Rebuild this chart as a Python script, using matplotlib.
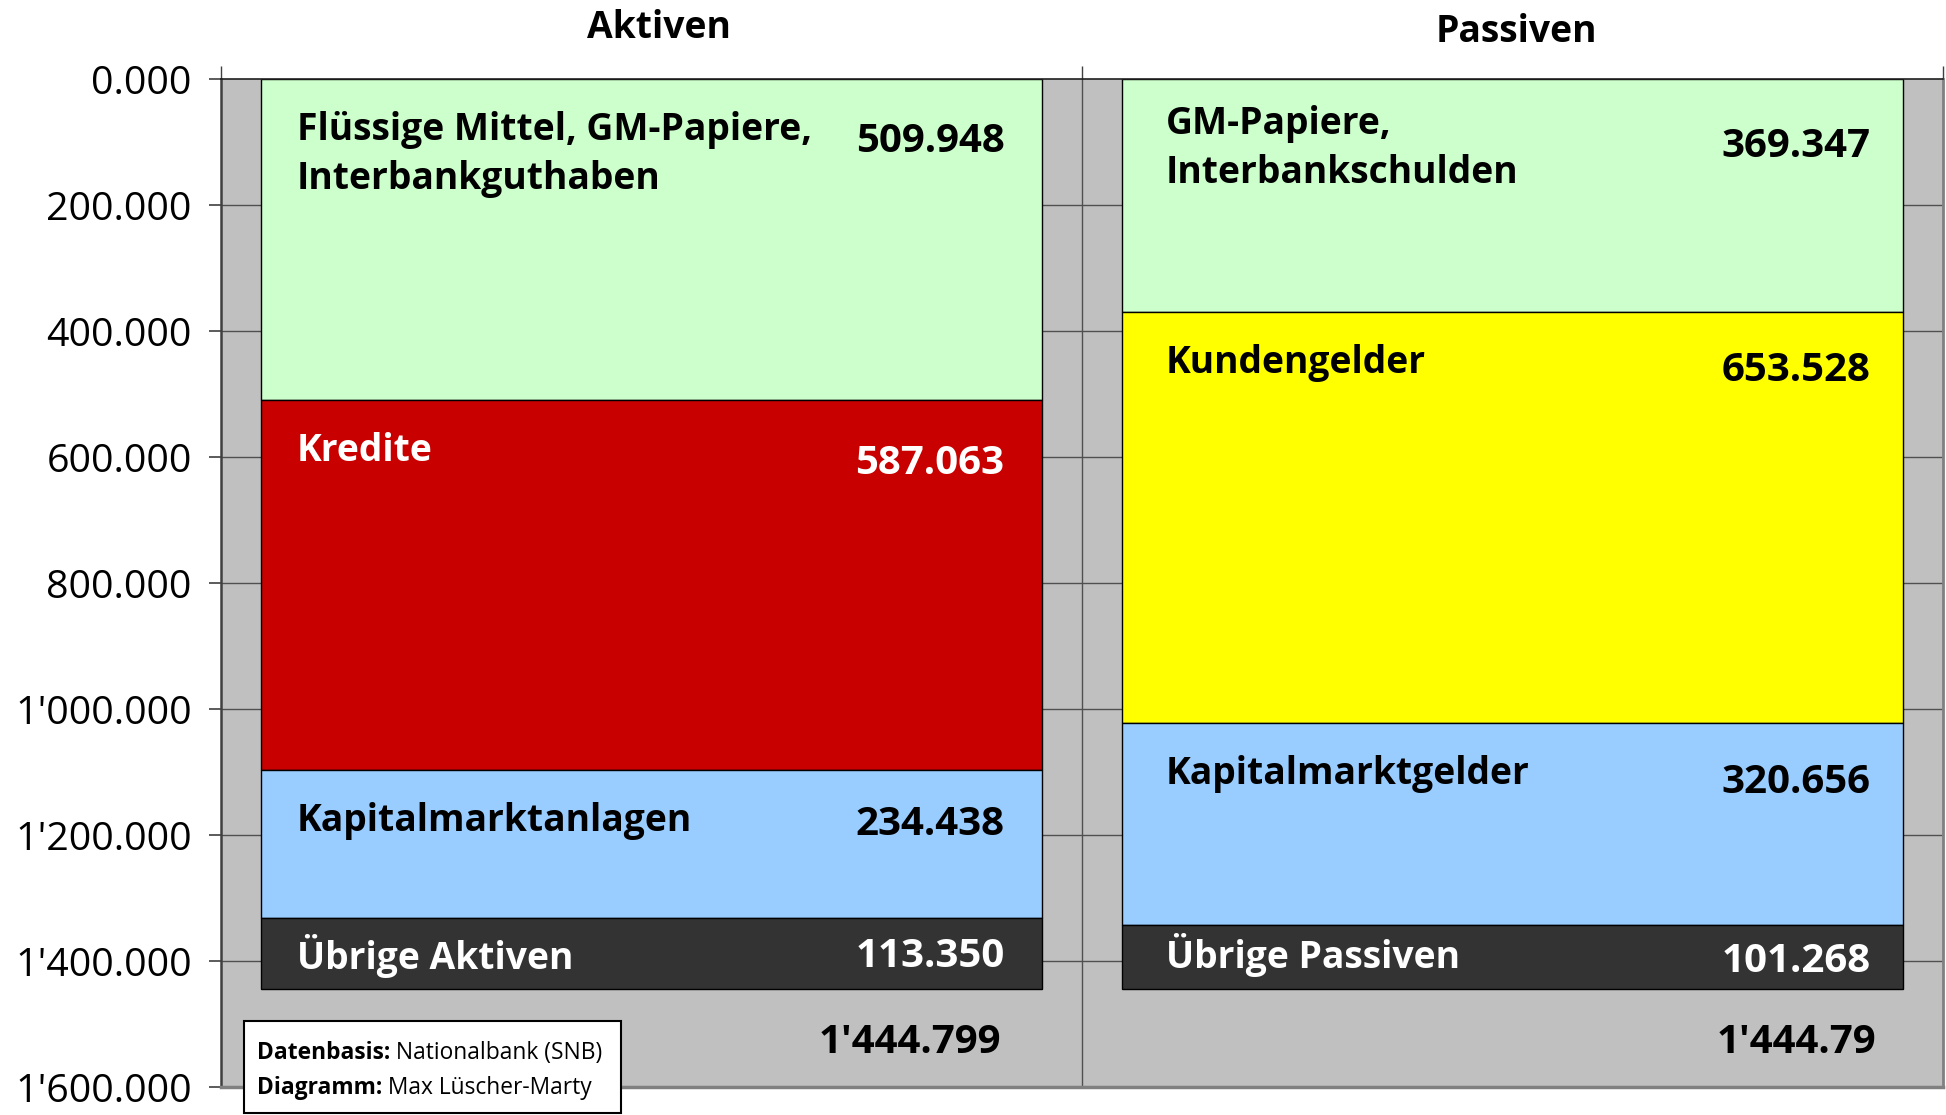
import matplotlib
matplotlib.use("Agg")
import matplotlib.pyplot as plt
from matplotlib.patches import Rectangle
from matplotlib.ticker import FuncFormatter, FixedLocator
import numpy as np

plt.rcParams['font.family'] = ['Open Sans', 'DejaVu Sans']

# ---------------- data ----------------
categories = ["Aktiven", "Passiven"]
aktiven_labels = ["Flüssige Mittel, GM-Papiere,\nInterbankguthaben", "Kredite",
                  "Kapitalmarktanlagen", "Übrige Aktiven"]
aktiven_values = [509.948, 587.063, 234.438, 113.350]
passiven_labels = ["GM-Papiere,\nInterbankschulden", "Kundengelder",
                   "Kapitalmarktgelder", "Übrige Passiven"]
passiven_values = [369.347, 653.528, 320.656, 101.268]
total_labels = ["1'444.799", "1'444.79"]
y_ticks = [0, 200, 400, 600, 800, 1000, 1200, 1400, 1600]

aktiven_colors = ["#CCFFCC", "#C80000", "#99CCFF", "#333333"]
passiven_colors = ["#CCFFCC", "#FFFF00", "#99CCFF", "#333333"]
aktiven_text = ["black", "white", "black", "white"]
passiven_text = ["black", "black", "black", "white"]

# ---------------- figure ----------------
W, H = 1946, 1115
fig = plt.figure(figsize=(W / 100, H / 100), dpi=100)
ax = fig.add_axes([221 / W, 1 - 1087 / H, (1943 - 221) / W, (1087 - 79) / H])
ax.set_facecolor("#C0C0C0")
ax.set_xlim(-0.5, 1.5)
ax.set_ylim(1600, 0)

# grid
for t in y_ticks[1:-1]:
    ax.axhline(t, color="#505050", lw=1.0, zorder=0.5)
ax.axvline(0.5, color="#505050", lw=1.0, zorder=0.5)

LBL = 26.8
VAL = 29
bar_w = 0.908
label_dx = [-0.412, -0.403]
value_dx = [0.41, 0.416]
total_dx = [0.406, 0.423]
# vertical text offsets (points) per segment
label_dy = [[-23, -23, -23, -1.5], [-18.5, -23, -23, 1.5]]
value_dy = [[-45, -45.5, -39.5, -2.5], [-48.5, -42, -42.5, -3]]
title_off = [(5.4, 29.5), (2.5, 26.6)]

groups = [(aktiven_labels, aktiven_values, aktiven_colors, aktiven_text),
          (passiven_labels, passiven_values, passiven_colors, passiven_text)]
for i, (labels, values, colors, tcols) in enumerate(groups):
    bottoms = np.concatenate([[0], np.cumsum(values)[:-1]])
    ax.bar([i] * len(values), values, bottom=bottoms, width=bar_w, color=colors,
           edgecolor="black", linewidth=1.0, zorder=2)
    for j, (lab, v, b, tc) in enumerate(zip(labels, values, bottoms, tcols)):
        if v < 150:
            mid = b + v / 2
            ax.annotate(lab, xy=(i + label_dx[i], mid), xytext=(0, label_dy[i][j]),
                        textcoords="offset points", ha="left", va="center",
                        fontsize=LBL, fontweight="bold", color=tc, zorder=3)
            ax.annotate(f"{v:.3f}", xy=(i + value_dx[i], mid), xytext=(0, value_dy[i][j]),
                        textcoords="offset points", ha="right", va="center",
                        fontsize=VAL, fontweight="bold", color=tc, zorder=3)
        else:
            ax.annotate(lab, xy=(i + label_dx[i], b), xytext=(0, label_dy[i][j]),
                        textcoords="offset points", ha="left", va="top",
                        fontsize=LBL, fontweight="bold", color=tc, zorder=3,
                        linespacing=1.38)
            ax.annotate(f"{v:.3f}", xy=(i + value_dx[i], b), xytext=(0, value_dy[i][j]),
                        textcoords="offset points", ha="right", va="center",
                        fontsize=VAL, fontweight="bold", color=tc, zorder=3)
    total = sum(values)
    ax.annotate(total_labels[i], xy=(i + total_dx[i], total), xytext=(0, -38),
                textcoords="offset points", ha="right", va="center",
                fontsize=VAL, fontweight="bold", color="black", zorder=3)
    # column title
    ax.annotate(categories[i], xy=(i, 0), xytext=title_off[i], textcoords="offset points",
                ha="center", va="baseline", fontsize=26.8, fontweight="bold",
                annotation_clip=False)

# axes styling
ax.yaxis.set_major_locator(FixedLocator(y_ticks))
ax.yaxis.set_major_formatter(FuncFormatter(lambda v, p: f"{v:,.3f}".replace(",", "'")))
ax.tick_params(axis="y", direction="out", length=9, width=1.2, color="#404040",
               labelsize=28.4, pad=12)

ax.xaxis.tick_top()
ax.set_xticks([])
ax.set_xticks([-0.5, 0.5, 1.5], minor=True)
ax.tick_params(axis="x", which="minor", direction="out", length=9.5, width=1.0, color="#404040")

ax.spines["left"].set_color("#404040")
ax.spines["left"].set_linewidth(1.8)
ax.spines["top"].set_color("#202020")
ax.spines["top"].set_linewidth(1.2)
ax.spines["right"].set_color("#808080")
ax.spines["right"].set_linewidth(2.0)
ax.spines["bottom"].set_color("#808080")
ax.spines["bottom"].set_linewidth(2.5)

# footnote box
ax.add_patch(Rectangle((244 / W, 1 - 1113 / H), (621 - 244) / W, (1113 - 1021) / H,
                       transform=fig.transFigure, facecolor="white", clip_on=False,
                       edgecolor="black", linewidth=1.5, zorder=5))
foot = [("Datenbasis:", " Nationalbank (SNB)", 1 - 1053 / H),
        ("Diagramm:", " Max Lüscher-Marty", 1 - 1088 / H)]
for bold, reg, yy in foot:
    t = ax.text(257 / W, yy, bold, transform=fig.transFigure, fontsize=16.4,
                fontweight="bold", ha="left", va="center", zorder=6, clip_on=False)
    ax.annotate(reg, xy=(1, 0), xycoords=t, ha="left", va="bottom",
                fontsize=16.4, zorder=6, annotation_clip=False)

fig.savefig("out.png", dpi=100)
